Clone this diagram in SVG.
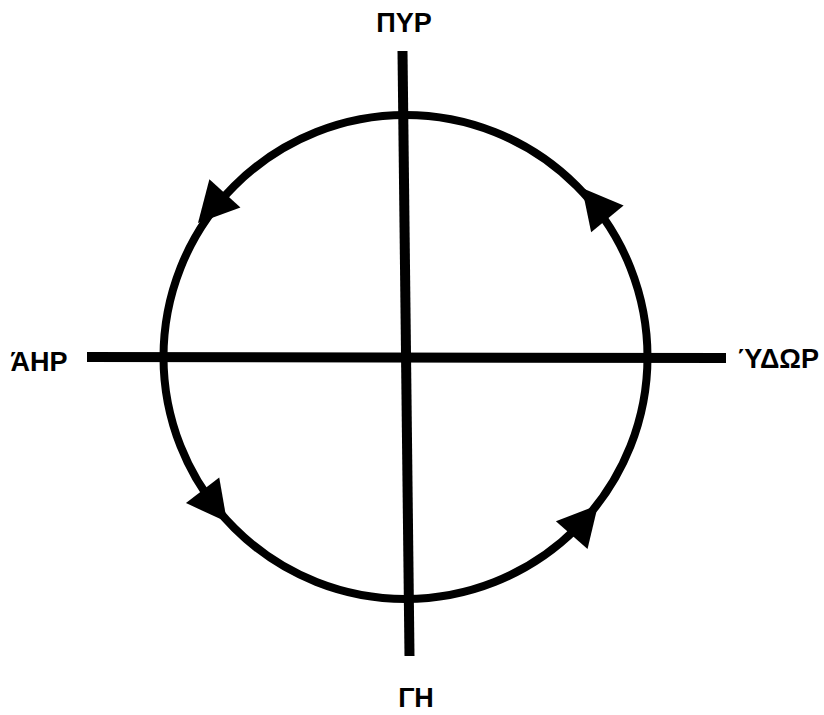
<svg xmlns="http://www.w3.org/2000/svg" width="824" height="715" viewBox="0 0 824 715">
<style>
.ln{stroke:#000;stroke-width:10;fill:none}
.circ{stroke:#000;stroke-width:8;fill:none}
.lbl{font-family:"Liberation Sans",Arial,sans-serif;font-weight:bold;font-size:27px;fill:#000}
</style>
<defs>
<polygon id="ah" points="0,0 -40,-21 -40,21" fill="#000"/>
</defs>
<rect width="824" height="715" fill="#fff"/>
<g id="cycle">
<circle class="circ" cx="405.5" cy="357" r="242"/>
</g>
<g id="connectors">
<line class="ln" x1="402.5" y1="51" x2="409.5" y2="656"/>
<line class="ln" x1="87" y1="357" x2="726" y2="358"/>
<use href="#ah" transform="translate(198,223) rotate(132.3)"/>
<use href="#ah" transform="translate(582,188) rotate(-129.4)"/>
<use href="#ah" transform="translate(227,522) rotate(52.4)"/>
<use href="#ah" transform="translate(598,505) rotate(-48.9)"/>
</g>
<g id="pyr"><text class="lbl" x="404" y="32" text-anchor="middle">ΠΥΡ</text></g>
<g id="gi"><text class="lbl" x="416" y="707" text-anchor="middle">ΓΗ</text></g>
<g id="air"><text class="lbl" x="39" y="371" text-anchor="middle">ΆΗΡ</text></g>
<g id="ydor"><text class="lbl" x="819" y="368" text-anchor="end">ΎΔΩΡ</text></g>
</svg>
